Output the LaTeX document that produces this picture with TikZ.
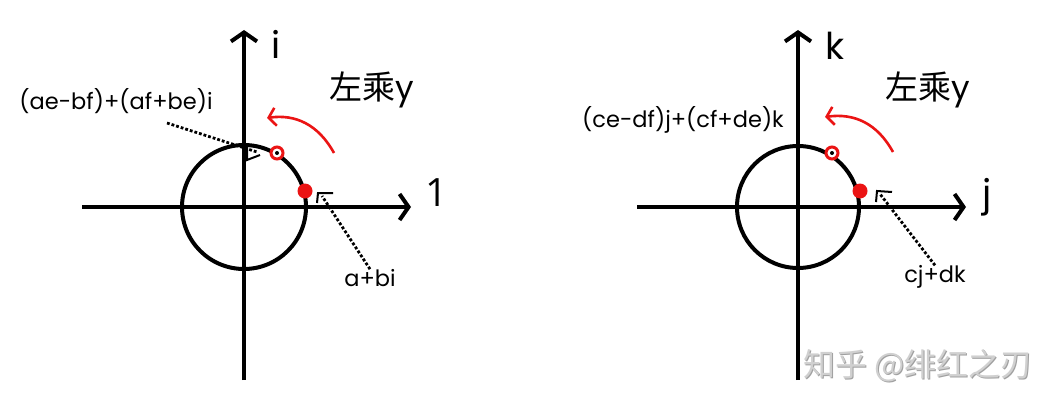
\documentclass[tikz,border=0pt]{standalone}
\usepackage{fontspec}
\setmainfont{Poppins}
\newfontfamily\cjk{Noto Sans CJK SC}
\newfontfamily\opensans{Open Sans}
\usetikzlibrary{arrows.meta}
\definecolor{hred}{RGB}{235,20,20}
\definecolor{wm}{RGB}{208,208,208}
\definecolor{wmsh}{RGB}{160,160,160}
\tikzset{
  axis/.style={line width=4pt, -{Straight Barb[length=9pt,width=26pt,line width=4pt]}},
  axisplain/.style={line width=4pt},
  unitc/.style={line width=4pt},
  rotarrow/.style={hred, line width=2.6pt, -{Straight Barb[length=7pt,width=18pt,line width=2.6pt]}},
  pointer/.style={line width=2.8pt, dotted, line cap=butt},
  corner/.style={line width=2pt},
  axlabel/.style={font=\fontsize{37}{37}\selectfont, inner sep=0pt},
  lbl/.style={font=\fontsize{22.5}{22.5}\selectfont, inner sep=0pt},
  title/.style={font=\fontsize{33}{33}\selectfont, inner sep=0pt},
  fdot/.style={circle, fill=hred, minimum size=15pt, inner sep=0pt},
  hdot/.style={circle, draw=hred, fill=white, line width=3pt, minimum size=12pt, inner sep=0pt},
  hdotc/.style={circle, fill=black, minimum size=4pt, inner sep=0pt},
  wmark/.style={font=\fontsize{32}{32}\selectfont\cjk, anchor=west, inner sep=0pt},
}
\begin{document}
\begin{tikzpicture}[x=1pt,y=-1pt]
\useasboundingbox[fill=white] (0,0) rectangle (1061,412);
% ---------- left diagram ----------
\coordinate (O1) at (244,207);
\coordinate (L1b) at (244,380);
\coordinate (L1t) at (244,30);
\coordinate (L1l) at (82,207);
\coordinate (L1r) at (411,207);
\draw[axisplain] (L1b) -- (O1);
\draw[axis] (O1) -- (L1t);
\draw[axisplain] (L1l) -- (O1);
\draw[axis] (O1) -- (L1r);
\draw[unitc] (O1) circle[radius=62];
\node[axlabel] (i1) at (276,44) {i};
\node[axlabel, font=\fontsize{39}{39}\selectfont\opensans] (one) at (437,193) {1};
\node[title] (t1) at (372,90) {{\cjk 左乘}y};
\coordinate (ra1s) at (334,153);
\coordinate (ra1e) at (267,118);
\draw[rotarrow] (ra1s) .. controls (318,124) and (295,114) .. (ra1e);
\node[fdot] (p1) at (305,191) {};
\node[hdot] (q1) at (277,153) {};
\node[hdotc] (q1c) at (q1) {};
\node[lbl] (lab1) at (116,101) {(ae-bf)+(af+be)i};
\coordinate (c1) at (257,152);
\draw[pointer] (167,123) -- (c1);
\draw[corner] ([shift={(-10,-5)}]c1) -- ([shift={(-10,8)}]c1) -- ([shift={(3,3)}]c1);
\node[lbl] (lab2) at (370,278) {a+bi};
\coordinate (c2) at (322,196);
\draw[pointer] (lab2.north) -- (c2);
\draw[corner] ([shift={(-5,7)}]c2) -- ([shift={(-4,-3)}]c2) -- ([shift={(11,-3)}]c2);
% ---------- right diagram ----------
\coordinate (O2) at (798,207);
\coordinate (R2b) at (798,380);
\coordinate (R2t) at (798,30);
\coordinate (R2l) at (637,207);
\coordinate (R2r) at (966,207);
\draw[axisplain] (R2b) -- (O2);
\draw[axis] (O2) -- (R2t);
\draw[axisplain] (R2l) -- (O2);
\draw[axis] (O2) -- (R2r);
\draw[unitc] (O2) circle[radius=61];
\node[axlabel] (k2) at (835,46) {k};
\node[axlabel] (j2) at (987,197) {j};
\node[title] (t2) at (928,90) {{\cjk 左乘}y};
\coordinate (ra2s) at (893,152);
\coordinate (ra2e) at (825,117);
\draw[rotarrow] (ra2s) .. controls (877,123) and (854,113) .. (ra2e);
\node[fdot] (p2) at (860,191) {};
\node[hdot] (q2) at (832,153) {};
\node[hdotc] (q2c) at (q2) {};
\node[lbl] (lab3) at (683,120) {(ce-df)j+(cf+de)k};
\node[lbl] (lab4) at (935,277) {cj+dk};
\coordinate (c3) at (880,194);
\draw[pointer] (lab4.north) -- (c3);
\draw[corner] ([shift={(-4,8)}]c3) -- ([shift={(-3,-3)}]c3) -- ([shift={(12,-2)}]c3);
% watermark
\node[wmark, text=wmsh] (wmks) at (804,367) {知乎 @绯红之刃};
\node[wmark, text=wm] (wmk) at (803,366) {知乎 @绯红之刃};
\end{tikzpicture}
\end{document}
